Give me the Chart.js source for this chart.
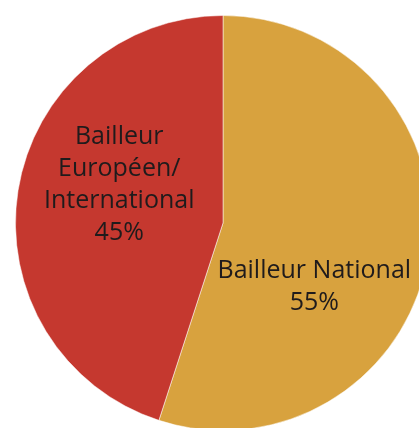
<!DOCTYPE html>
<html><head><meta charset="utf-8">
<script src="https://cdn.jsdelivr.net/npm/chart.js@4/dist/chart.umd.min.js"></script>
<style>
html,body{margin:0;padding:0;width:419px;height:428px;overflow:hidden;background:#fff;}
#wrap{position:absolute;left:15px;top:15px;width:416px;height:416px;}
</style></head><body>
<div id="wrap"><canvas id="c"></canvas></div>
<script>
const categories = ["Bailleur National", "Bailleur Européen/ International"];
const values = [55, 45];
const labelLines = [["Bailleur National", "55%"], ["Bailleur", "Européen/", "International", "45%"]];
const colors = ["#D8A23E", "#C5382F"];
// label centre offsets, as fraction of radius, from pie centre
const labelOffsets = [[0.44, 0.31], [-0.50, -0.185]];

const labelPlugin = {
  id: "labels",
  afterDatasetsDraw(chart) {
    const ctx = chart.ctx;
    const meta = chart.getDatasetMeta(0);
    const arc = meta.data[0];
    const cx = arc.x, cy = arc.y, r = arc.outerRadius;
    ctx.save();
    ctx.fillStyle = "#1F1B1C";
    ctx.font = "25px 'Open Sans'";
    ctx.textAlign = "center";
    ctx.textBaseline = "middle";
    const lh = 32;
    labelLines.forEach((lines, i) => {
      const x = cx + labelOffsets[i][0] * r;
      const y0 = cy + labelOffsets[i][1] * r - (lines.length - 1) * lh / 2;
      lines.forEach((t, j) => ctx.fillText(t, x, y0 + j * lh));
    });
    ctx.restore();
  }
};

new Chart(document.getElementById("c"), {
  type: "pie",
  data: { labels: categories, datasets: [{ data: values, backgroundColor: colors, borderColor: "rgba(255,255,255,0.5)", borderWidth: 1 }] },
  options: {
    responsive: true, maintainAspectRatio: false, animation: false,
    layout: { padding: 0 },
    plugins: { legend: { display: false }, tooltip: { enabled: false } }
  },
  plugins: [labelPlugin]
});
</script>
</body></html>
